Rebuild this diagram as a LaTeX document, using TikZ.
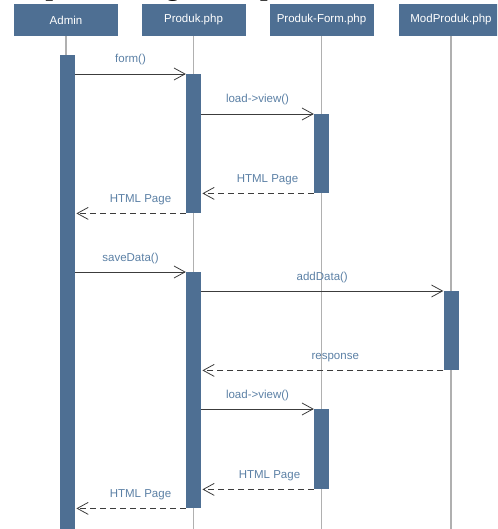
\documentclass[tikz,border=0pt]{standalone}
\usepackage{fontspec}
\setmainfont{Liberation Sans}
\newfontfamily\headfont{Liberation Serif}
\usetikzlibrary{arrows.meta}
\definecolor{barblue}{HTML}{4E6F93}
\definecolor{lblblue}{HTML}{5B80A5}
\definecolor{lifegrey}{HTML}{B0B0B0}
\definecolor{msgcol}{HTML}{3C3C3C}
\tikzset{
  hdr/.style={fill=barblue, draw=none, minimum width=104pt, minimum height=32pt, inner sep=0pt, text=white, font=\fontsize{11.5}{13}\selectfont},
  life/.style={draw=lifegrey, line width=1.5pt},
  actbar/.style={fill=barblue, draw=none, minimum width=15pt, inner sep=0pt, anchor=north},
  call/.style={draw=msgcol, line width=0.9pt, -{Straight Barb[length=11pt,width=12pt,line width=0.8pt]}},
  ret/.style={draw=msgcol, line width=1.1pt, dash pattern=on 6pt off 4pt, -{Straight Barb[length=11pt,width=12pt,line width=0.8pt,sep]}},
  lbl/.style={text=lblblue, font=\fontsize{11.5}{13}\selectfont, anchor=base, inner sep=0pt, yshift=11pt}
}
\begin{document}
\begin{tikzpicture}[x=1pt,y=-1pt]
\path[use as bounding box] (0,0) rectangle (497,529);
\clip (0,0) rectangle (497,529);
% cropped heading from the page above
\node[anchor=base west, inner sep=0pt, font=\headfont\bfseries\fontsize{27}{30}\selectfont] (head) at (11,-4.5) {Sequence Diagram Input Produk};
% headers
\node[hdr] (hA) at (66,20) {Admin};
\node[hdr] (hP) at (193.5,20) {Produk.php};
\node[hdr] (hF) at (321.5,20) {Produk-Form.php};
\node[hdr] (hM) at (451,20) {ModProduk.php};
% lifeline ends
\coordinate (eA) at (66,529);
\coordinate (eP) at (193.5,529);
\coordinate (eF) at (321.5,529);
\coordinate (eM) at (451,529);
\draw[life] (hA.south) -- (eA);
\draw[life] (hP.south) -- (eP);
\draw[life] (hF.south) -- (eF);
\draw[life] (hM.south) -- (eM);
% activation bars
\node[actbar, minimum height=474pt] (A) at (67.5,55) {};
\node[actbar, minimum height=139pt] (P1) at (193.5,74) {};
\node[actbar, minimum height=79pt] (F1) at (321.5,114) {};
\node[actbar, minimum height=236pt] (P2) at (193.5,272) {};
\node[actbar, minimum height=79pt] (M1) at (451,291) {};
\node[actbar, minimum height=80pt] (F2) at (321.5,409) {};
% messages
\draw[call] (A.east |- P1.north) -- node[lbl] {form()} (P1.north west);
\draw[call] (P1.east |- F1.north) -- node[lbl] {load->view()} (F1.north west);
\draw[ret] (F1.south west) -- node[lbl, xshift=10pt] {HTML Page} (P1.east |- F1.south);
\draw[ret] (P1.south west) -- node[lbl, xshift=10pt] {HTML Page} (A.east |- P1.south);
\draw[call] (A.east |- P2.north) -- node[lbl] {saveData()} (P2.north west);
\draw[call] (P2.east |- M1.north) -- node[lbl] {addData()} (M1.north west);
\draw[ret] (M1.south west) -- node[lbl, xshift=13pt] {response} (P2.east |- M1.south);
\draw[call] (P2.east |- F2.north) -- node[lbl] {load->view()} (F2.north west);
\draw[ret] (F2.south west) -- node[lbl, xshift=12pt] {HTML Page} (P2.east |- F2.south);
\draw[ret] (P2.south west) -- node[lbl, xshift=10pt] {HTML Page} (A.east |- P2.south);
\end{tikzpicture}
\end{document}
